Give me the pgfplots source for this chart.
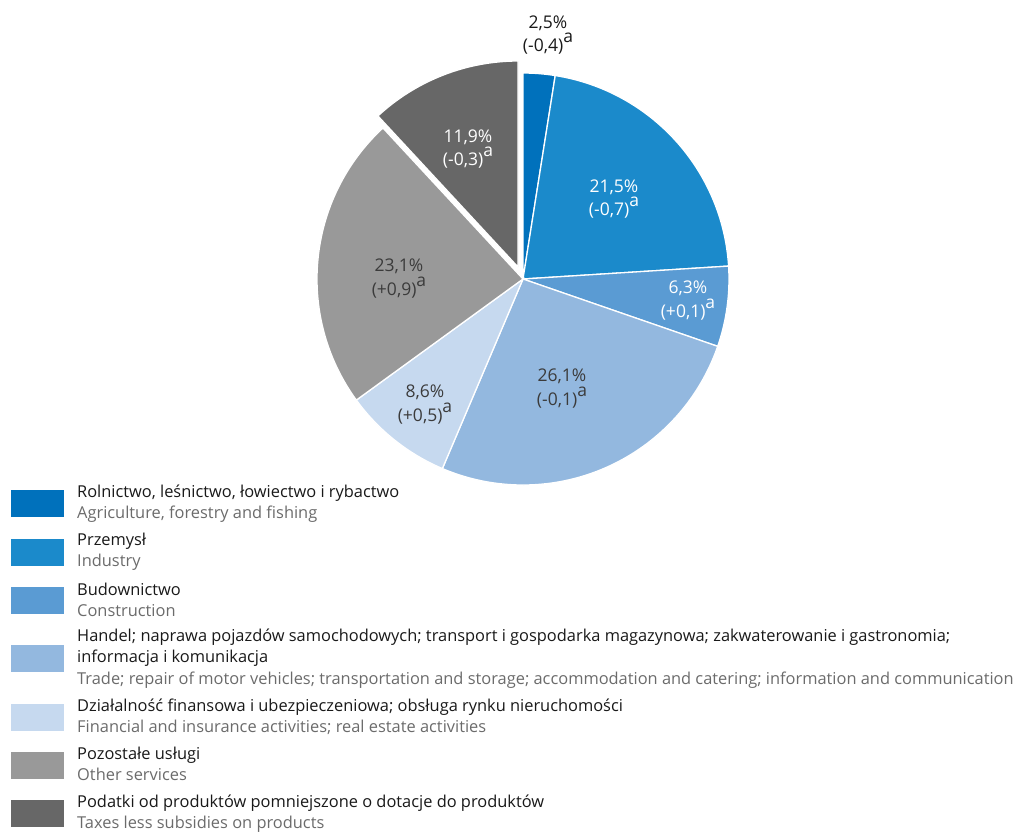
\documentclass[border=0pt]{standalone}
\usepackage{pgfplots}
\pgfplotsset{compat=1.18}
\usepackage{fontspec}
\setmainfont{Open Sans}
\definecolor{c1}{HTML}{0071BC}
\definecolor{c2}{HTML}{1B8ACB}
\definecolor{c3}{HTML}{5A9BD3}
\definecolor{c4}{HTML}{93B8DF}
\definecolor{c5}{HTML}{C6D9EF}
\definecolor{c6}{HTML}{999999}
\definecolor{c7}{HTML}{676767}
\definecolor{txtdark}{HTML}{3B3B3B}
\definecolor{txtgray}{HTML}{6B6B6B}

% wedge: start share, end share (cumulative %), colour, offset
\newcommand\slice[4]{%
  \fill[#3, draw=white, line width=1.3pt, shift={#4}] (axis cs:523,279) -- ++({90-3.6*#1}:206pt)
    arc[start angle={90-3.6*#1}, end angle={90-3.6*#2}, radius=206pt] -- cycle;}
% label: x, baseline 1, text 1, baseline 2, text 2, colour
\newcommand\lbl[6]{%
  \node[anchor=base, text=#6, inner sep=0pt, font=\fontsize{17.5}{22}\selectfont] at (axis cs:#1,#2) {#3};
  \node[anchor=base, text=#6, inner sep=0pt, font=\fontsize{17.5}{22}\selectfont] at (axis cs:#1,#4) {#5\raisebox{0.48em}{a}};}
% legend entry: colour, square top, baseline, polish, english
\newcommand\entry[5]{%
  \fill[#1] (axis cs:11,#2) rectangle (axis cs:64,#2+27);
  \node[anchor=base west, inner sep=0pt, text=black!90, font=\fontsize{16.4}{21}\selectfont] at (axis cs:77,#3) {#4};
  \node[anchor=base west, inner sep=0pt, text=txtgray, font=\fontsize{16.4}{21}\selectfont] at (axis cs:77,#3+21) {#5};}

\begin{document}
\begin{tikzpicture}
\begin{axis}[x=1pt, y=1pt, xmin=0, xmax=1019, ymin=0, ymax=831, y dir=reverse,
  hide axis, clip=false]
% shares in %: 2.5, 21.5, 6.3, 26.1, 8.6, 23.1, 11.9
\slice{0}{2.5}{c1}{(0pt,0pt)}
\slice{2.5}{24.0}{c2}{(0pt,0pt)}
\slice{24.0}{30.3}{c3}{(0pt,0pt)}
\slice{30.3}{56.4}{c4}{(0pt,0pt)}
\slice{56.4}{65.0}{c5}{(0pt,0pt)}
\slice{65.0}{88.1}{c6}{(0pt,0pt)}
\slice{88.1}{100}{c7}{(-5pt,12pt)}

\lbl{548}{28}{2,5\%}{51}{(-0,4)}{black!90}
\lbl{614}{192}{21,5\%}{215}{(-0,7)}{white}
\lbl{688}{293}{6,3\%}{317}{(+0,1)}{white}
\lbl{562}{381}{26,1\%}{405}{(-0,1)}{txtdark}
\lbl{425}{397}{8,6\%}{421}{(+0,5)}{txtdark}
\lbl{399}{271}{23,1\%}{295}{(+0,9)}{txtdark}
\lbl{468}{142}{11,9\%}{165}{(-0,3)}{white}

\entry{c1}{490}{497}{Rolnictwo, leśnictwo, łowiectwo i rybactwo}{Agriculture, forestry and fishing}
\entry{c2}{539}{545}{Przemysł}{Industry}
\entry{c3}{587}{595}{Budownictwo}{Construction}
\fill[c4] (axis cs:11,645) rectangle (axis cs:64,672);
\node[anchor=base west, inner sep=0pt, text=black!90, font=\fontsize{16.4}{21}\selectfont] at (axis cs:77,641) {Handel; naprawa pojazdów samochodowych; transport i gospodarka magazynowa; zakwaterowanie i gastronomia;};
\node[anchor=base west, inner sep=0pt, text=black!90, font=\fontsize{16.4}{21}\selectfont] at (axis cs:77,662) {informacja i komunikacja};
\node[anchor=base west, inner sep=0pt, text=txtgray, font=\fontsize{16.4}{21}\selectfont] at (axis cs:77,684) {Trade; repair of motor vehicles; transportation and storage; accommodation and catering; information and communication};
\entry{c5}{704}{711}{Działalność finansowa i ubezpieczeniowa; obsługa rynku nieruchomości}{Financial and insurance activities; real estate activities}
\entry{c6}{752}{759}{Pozostałe usługi}{Other services}
\entry{c7}{800}{807}{Podatki od produktów pomniejszone o dotacje do produktów}{Taxes less subsidies on products}
\end{axis}
\pgfresetboundingbox
\useasboundingbox (current axis.south west) rectangle (current axis.north east);
\end{tikzpicture}
\end{document}
